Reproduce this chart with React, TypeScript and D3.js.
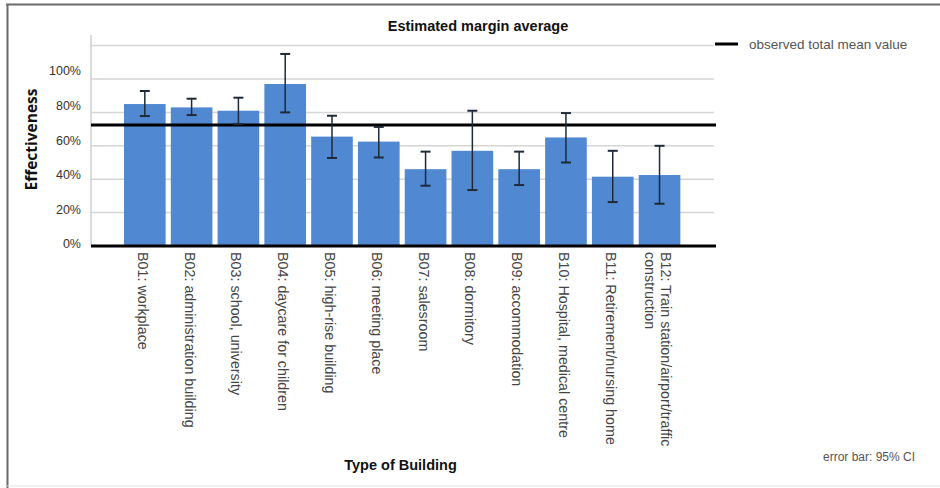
import React from "react";
import * as d3 from "d3";

// Building categories (multi-line where the label wraps)
const categories: string[][] = [
  ["B01: workplace"],
  ["B02: administration building"],
  ["B03: school, university"],
  ["B04: daycare for children"],
  ["B05: high-rise building"],
  ["B06: meeting place"],
  ["B07: salesroom"],
  ["B08: dormitory"],
  ["B09: accommodation"],
  ["B10: Hospital, medical centre"],
  ["B11: Retirement/nursing home"],
  ["B12: Train station/airport/traffic", "construction"],
];

// Estimated marginal means (%) with 95% CI bounds
const means: number[] = [85, 83, 81, 97, 65.5, 62.5, 46, 57, 46, 65, 41.5, 42.5];
const ciLower: number[] = [77.8, 78.4, 73, 80, 52.7, 53, 36.1, 33.5, 36.5, 50, 26.3, 25.3];
const ciUpper: number[] = [92.8, 88.2, 88.8, 115, 78, 71.3, 56.5, 81, 56.5, 79.6, 57, 60];

const observedMean = 72.5;

const yTicks: number[] = [0, 20, 40, 60, 80, 100];
const gridValues: number[] = [20, 40, 60, 80, 100, 120];

const W = 940;
const H = 488;

const BAR = "#5089d2";
const ERR = "#1e2a38";
const FONT = "'Liberation Sans', Arial, Helvetica, sans-serif";

export default function App() {
  const x = d3
    .scaleBand<number>()
    .domain(d3.range(categories.length))
    .range([118.85, 685.5])
    .paddingInner(0.11)
    .paddingOuter(0.11);

  const y = d3.scaleLinear().domain([0, 120]).range([246, 45.6]);
  // tick labels sit a little above their gridlines
  const yLabel = d3.scaleLinear().domain([0, 100]).range([244, 71]);

  const axisLeft = 91;
  const axisRight = 716;
  const bw = x.bandwidth();
  const cap = 5;

  return (
    <svg
      width={W}
      height={H}
      viewBox={`0 0 ${W} ${H}`}
      style={{ position: "absolute", left: 0, top: 0, background: "#fff" }}
    >
      <rect x={0} y={0} width={W} height={H} fill="#fff" />
      {/* frame */}
      <line x1={6} x2={W} y1={4.5} y2={4.5} stroke="#6b6b6b" strokeWidth={2} />
      <line x1={7.5} x2={7.5} y1={4} y2={H} stroke="#6b6b6b" strokeWidth={2} />
      <line x1={7} x2={W} y1={486} y2={486} stroke="#e2e2e2" strokeWidth={1} />

      {/* title */}
      <text
        x={478}
        y={31}
        textAnchor="middle"
        fontFamily={FONT}
        fontWeight="bold"
        fontSize={14.5}
        fill="#111"
      >
        Estimated margin average
      </text>

      {/* gridlines */}
      {gridValues.map((v) => (
        <line
          key={v}
          x1={axisLeft}
          x2={714}
          y1={y(v)}
          y2={y(v)}
          stroke="#d6d6d6"
          strokeWidth={1.5}
        />
      ))}
      <line x1={axisLeft} x2={axisLeft} y1={35} y2={246} stroke="#cfcfcf" strokeWidth={1.5} />

      {/* y tick labels */}
      {yTicks.map((v) => (
        <text
          key={v}
          x={81}
          y={yLabel(v)}
          dy="0.35em"
          textAnchor="end"
          fontFamily={FONT}
          fontSize={12.5}
          fill="#333"
        >
          {`${v}%`}
        </text>
      ))}

      {/* y axis title */}
      <text
        transform={`translate(37, 139.5) rotate(-90)`}
        textAnchor="middle"
        fontFamily="'Open Sans', 'DejaVu Sans', sans-serif"
        fontWeight="bold"
        fontSize={15.5}
        fill="#111"
      >
        Effectiveness
      </text>

      {/* bars */}
      {means.map((m, i) => (
        <rect
          key={i}
          x={x(i)}
          y={y(m)}
          width={bw}
          height={y(0) - y(m)}
          fill={BAR}
        />
      ))}

      {/* observed total mean line */}
      <line
        x1={axisLeft}
        x2={axisRight}
        y1={y(observedMean)}
        y2={y(observedMean)}
        stroke="#000"
        strokeWidth={3}
      />

      {/* error bars */}
      {means.map((_, i) => {
        const cx = (x(i) as number) + bw / 2;
        const yl = y(ciLower[i]);
        const yu = y(ciUpper[i]);
        return (
          <g key={i} stroke={ERR} strokeWidth={1.5}>
            <line x1={cx} x2={cx} y1={yu} y2={yl} />
            <line x1={cx - cap} x2={cx + cap} y1={yu} y2={yu} strokeWidth={2} />
            <line x1={cx - cap} x2={cx + cap} y1={yl} y2={yl} strokeWidth={2} />
          </g>
        );
      })}

      {/* zero baseline */}
      <line x1={axisLeft} x2={axisRight} y1={y(0)} y2={y(0)} stroke="#000" strokeWidth={3} />

      {/* category labels */}
      {categories.map((lines, i) => {
        const cx = (x(i) as number) + bw / 2 - 2;
        return (
          <text
            key={i}
            transform={`translate(${cx}, 252) rotate(90)`}
            textAnchor="start"
            fontFamily={FONT}
            fontSize={14.3}
            fill="#444"
          >
            {lines.map((ln, j) => (
              <tspan
                key={j}
                x={0}
                y={(j - (lines.length - 1) / 2) * 16}
                dominantBaseline="central"
              >
                {ln}
              </tspan>
            ))}
          </text>
        );
      })}

      {/* x axis title */}
      <text
        x={400.5}
        y={470}
        textAnchor="middle"
        fontFamily={FONT}
        fontWeight="bold"
        fontSize={14.5}
        fill="#111"
      >
        Type of Building
      </text>

      {/* legend */}
      <line x1={715} x2={738} y1={44} y2={44} stroke="#000" strokeWidth={3} />
      <text x={749} y={48.5} fontFamily={FONT} fontSize={13.5} fill="#555">
        observed total mean value
      </text>

      {/* footnote */}
      <text x={823} y={461} fontFamily={FONT} fontSize={12} fill="#555">
        error bar: 95% CI
      </text>
    </svg>
  );
}
